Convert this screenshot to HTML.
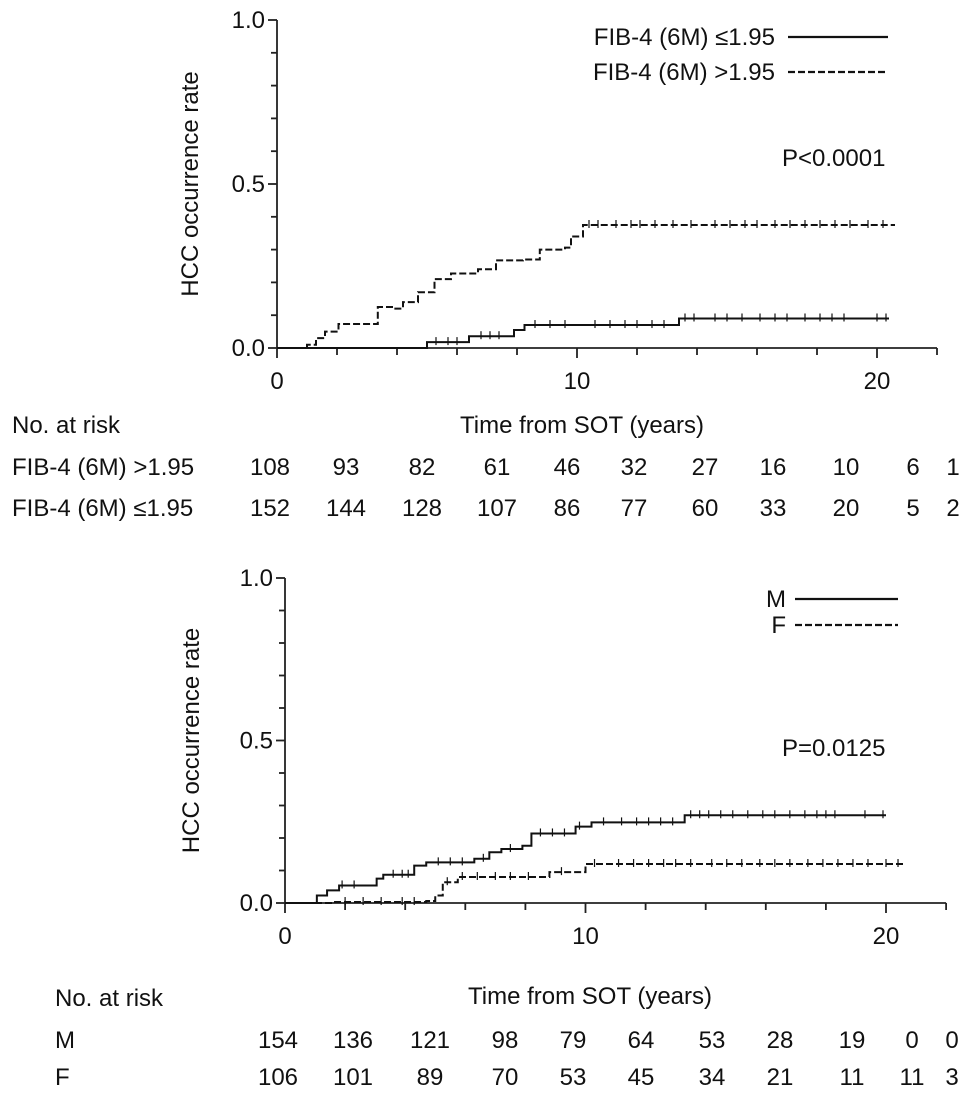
<!DOCTYPE html>
<html><head><meta charset="utf-8"><style>
html,body{margin:0;padding:0;background:#fff}
svg{display:block;font-family:"Liberation Sans",Arial,sans-serif}
text{fill:#111;font-size:24px}
</style></head><body>
<svg id="c" width="969" height="1103" viewBox="0 0 969 1103"></svg>
<script>
// Panel A data (years, cumulative rate)
const aHighT=[0,1.0,1.3,1.6,2.05,2.8,3.36,3.9,4.2,4.7,5.25,5.8,6.7,7.3,8.2,8.76,9.6,9.8,10.2,20.6];
const aHighV=[0,0.01,0.03,0.05,0.073,0.073,0.125,0.12,0.14,0.17,0.21,0.227,0.24,0.267,0.27,0.30,0.306,0.34,0.375,0.375];
const aLowT=[0,5.0,6.4,7.9,8.25,13.4,20.4];
const aLowV=[0,0.018,0.036,0.055,0.07,0.09,0.09];
const aHighCens=[10.4,10.7,11.3,11.8,12.1,12.6,13.2,13.8,14.6,15.1,15.6,16.0,16.6,17.1,17.6,18.1,18.6,19.1,19.7,20.2];
const aLowCens=[5.3,5.7,6.0,6.8,7.1,7.4,8.6,9.1,9.6,10.6,11.1,11.6,12.0,12.5,12.9,13.6,13.9,14.6,15.0,15.5,16.1,16.6,17.0,17.6,18.1,18.5,18.9,20.0,20.3];
const riskA1=[108,93,82,61,46,32,27,16,10,6,1];
const riskA2=[152,144,128,107,86,77,60,33,20,5,2];
// Panel B data
const bMT=[0,1.06,1.4,1.8,3.05,3.27,4.3,4.7,6.3,6.8,7.2,7.9,8.2,9.67,10.2,13.3,20.0];
const bMV=[0,0.023,0.039,0.054,0.075,0.087,0.115,0.125,0.136,0.156,0.166,0.176,0.214,0.235,0.248,0.27,0.27];
const bFT=[0,1.6,4.7,5.0,5.25,5.75,8.8,10.0,20.6];
const bFV=[0,0.003,0.006,0.023,0.064,0.08,0.095,0.12,0.12];
const bMCens=[1.9,2.3,3.6,3.9,4.1,5.1,5.5,5.9,6.6,7.5,8.5,8.9,9.3,9.8,10.6,11.2,11.7,12.1,12.5,12.9,13.5,13.8,14.1,14.5,14.9,15.4,15.9,16.3,16.8,17.3,17.7,18.0,18.3,19.3,19.9];
const bFCens=[2.0,2.6,3.2,3.9,4.3,5.4,5.9,6.4,7.0,7.5,8.1,9.2,10.3,11.1,11.6,12.1,12.6,13.0,13.5,14.2,14.7,15.2,15.8,16.3,16.8,17.4,17.9,18.4,18.9,19.4,20.0,20.4];
const riskBM=[154,136,121,98,79,64,53,28,19,0,0];
const riskBF=[106,101,89,70,53,45,34,21,11,11,3];
const riskXA=[270,346,422,497,567,634,705,773,846,913,953];
const riskXB=[278,353,430,505,573,641,712,780,852,912,952];

const svg=document.getElementById('c');
const NS='http://www.w3.org/2000/svg';
function el(tag,attrs,parent){const e=document.createElementNS(NS,tag);for(const k in attrs)e.setAttribute(k,attrs[k]);(parent||svg).appendChild(e);return e;}
function txt(s,x,y,anchor,parent){const t=el('text',{x:x,y:y,'text-anchor':anchor||'start'},parent);t.textContent=s;return t;}

function panel(p){
  const g=el('g',{});
  
  
  const sx=v=>p.x0+v*p.px;
  const sy=v=>p.y0-v*(p.y0-p.y1);
  const ax=el('g',{stroke:'#222','stroke-width':1.8},g);
  
  
  el('line',{x1:p.x0,y1:p.y1,x2:p.x0,y2:p.y0},ax);
  el('line',{x1:p.x0,y1:p.y0,x2:sx(22),y2:p.y0},ax);
  for(let i=0;i<=10;i++){const y=sy(i/10);el('line',{x1:p.x0-(i%5==0?9:6),y1:y,x2:p.x0,y2:y},ax);}
  for(let i=0;i<=22;i+=2){const x=sx(i);el('line',{x1:x,y1:p.y0,x2:x,y2:p.y0+(i%10==0?10:7)},ax);}
  ['0.0','0.5','1.0'].forEach((s,i)=>{const t=txt(s,p.x0-12,sy(i*0.5)+8,'end',g);});
  ['0','10','20'].forEach((s,i)=>{const t=txt(s,sx(i*10),p.y0+41,'middle',g);});
  const yl=txt('HCC occurrence rate',0,0,'middle',g);
  yl.setAttribute('transform','translate('+p.ylx+','+sy(0.5)+') rotate(-90)');
  
  
  const xl=txt('Time from SOT (years)',p.xlx,p.xly,'middle',g);
  
  
  p.series.forEach(s=>{
    let d='M'+sx(s.t[0])+','+sy(s.v[0]);
    for(let i=1;i<s.t.length;i++){d+=' H'+sx(s.t[i])+' V'+sy(s.v[i]);}
    const path=el('path',{d:d,fill:'none',stroke:'#111','stroke-width':2,'stroke-dasharray':s.dash?'7,3':'none'},g);
    
    
    s.c.forEach(c=>{
      let v=0;for(let i=0;i<s.t.length;i++){if(s.t[i]<=c)v=s.v[i];}
      const m=el('line',{x1:sx(c),x2:sx(c),y1:sy(v)-5,y2:sy(v)+3,stroke:'#111','stroke-width':1.2},g);
      
      
    });
  });
  p.legend.forEach(L=>{
    const t=txt(L.label,L.tx,L.y+8,'end',g);
    
    
    const l=el('line',{x1:L.lx1,x2:L.lx2,y1:L.y,y2:L.y,stroke:'#111','stroke-width':2.2,'stroke-dasharray':L.dash?'7,3':'none'},g);
    
    
  });
  const pv=txt(p.pval,p.pvx,p.pvy,'start',g);
  
  
  const nr=txt('No. at risk',p.nrx,p.nry,'start',g);
  
  
  p.rows.forEach(r=>{
    const lab=txt(r.label,p.rlx,r.y,'start',g);
    
    
    r.vals.forEach((v,i)=>{const t=txt(String(v),p.rx[i],r.y,'middle',g);});
  });
}

panel({name:'panel-fib4',x0:277,px:30,y0:348,y1:20,ylx:198,xlx:582,xly:433,
  series:[{name:'fib4-high-curve',t:aHighT,v:aHighV,c:aHighCens,dash:true},{name:'fib4-low-curve',t:aLowT,v:aLowV,c:aLowCens,dash:false}],
  legend:[{label:'FIB-4 (6M) \u22641.95',tx:775,y:37,lx1:788,lx2:888,dash:false},{label:'FIB-4 (6M) >1.95',tx:775,y:72,lx1:788,lx2:888,dash:true}],
  pval:'P<0.0001',pvx:782,pvy:166,nrx:12,nry:433,rlx:12,rx:riskXA,
  rows:[{label:'FIB-4 (6M) >1.95',vals:riskA1,y:475},{label:'FIB-4 (6M) \u22641.95',vals:riskA2,y:516}]});

panel({name:'panel-sex',x0:285,px:30.05,y0:903,y1:578,ylx:199,xlx:590,xly:1004,
  series:[{name:'male-curve',t:bMT,v:bMV,c:bMCens,dash:false},{name:'female-curve',t:bFT,v:bFV,c:bFCens,dash:true}],
  legend:[{label:'M',tx:786,y:599,lx1:795,lx2:898,dash:false},{label:'F',tx:786,y:625,lx1:795,lx2:898,dash:true}],
  pval:'P=0.0125',pvx:782,pvy:756,nrx:55,nry:1006,rlx:55,rx:riskXB,
  rows:[{label:'M',vals:riskBM,y:1048},{label:'F',vals:riskBF,y:1085}]});
</script>
</body></html>
